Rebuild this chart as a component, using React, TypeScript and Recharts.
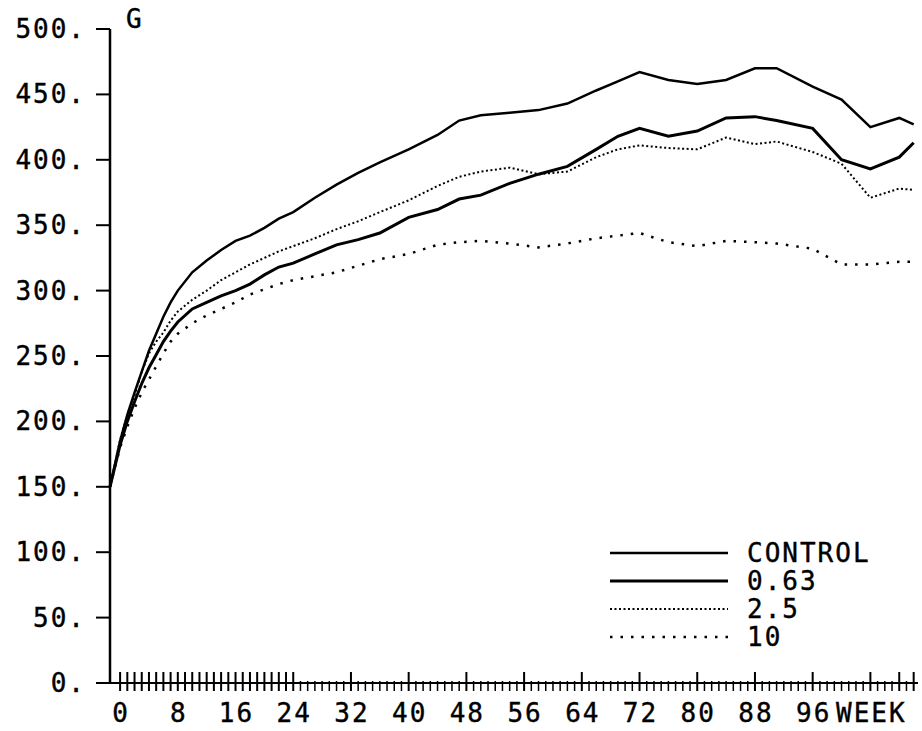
import React from 'react';
import { LineChart, Line, XAxis, YAxis, Customized } from 'recharts';

// Weeks of measurement
const weeks = [-1.4, 0, 1, 2, 3, 4, 5, 6, 7, 8, 10, 12, 14, 16, 18, 20, 22, 24, 27, 30, 33, 36, 40, 44, 47, 50, 54, 58, 62, 66, 69, 72, 76, 80, 84, 88, 91, 96, 100, 104, 108, 110];

// Body weight (G) per group
const controlValues = [150, 185, 205, 222, 238, 254, 267, 280, 291, 300, 314, 323, 331, 338, 342, 348, 355, 360, 371, 381, 390, 398, 408, 419, 430, 434, 436, 438, 443, 453, 460, 467, 461, 458, 461, 470, 470, 456, 446, 425, 432, 427];
const dose063Values = [150, 182, 200, 215, 229, 241, 251, 261, 269, 276, 286, 291, 296, 300, 305, 312, 318, 321, 328, 335, 339, 344, 356, 362, 370, 373, 382, 389, 395, 408, 418, 424, 418, 422, 432, 433, 430, 424, 400, 393, 402, 413];
const dose25Values = [150, 186, 205, 220, 238, 252, 261, 268, 277, 284, 293, 300, 308, 314, 320, 325, 330, 334, 340, 347, 353, 360, 369, 380, 387, 391, 394, 389, 391, 402, 408, 411, 409, 408, 417, 412, 414, 406, 397, 371, 378, 377];
const dose10Values = [150, 180, 196, 210, 222, 232, 242, 252, 261, 267, 275, 281, 286, 291, 297, 301, 305, 308, 311, 314, 319, 324, 328, 335, 337, 338, 336, 333, 336, 340, 342, 344, 337, 334, 338, 337, 336, 332, 320, 320, 322, 322];

const seriesKeys = ['control', 'd063', 'd25', 'd10'];
const seriesNames = ['CONTROL', '0.63', '2.5', '10'];

const yTicks = [0, 50, 100, 150, 200, 250, 300, 350, 400, 450, 500];
const xLabelTicks = [0, 8, 16, 24, 32, 40, 48, 56, 64, 72, 80, 88, 96];
const xAllTicks = Array.from({ length: 111 }, (_, i) => i);
const xUnitLabel = 'WEEK';
const yUnitLabel = 'G';

const data = weeks.map((w, i) => ({
  week: w,
  control: controlValues[i],
  d063: dose063Values[i],
  d25: dose25Values[i],
  d10: dose10Values[i],
}));

const FONT = "'DejaVu Sans Mono', monospace";
const FS = 26;
const LS = 2;

const styles: Record<string, { width: number; dash?: string }> = {
  control: { width: 2.5 },
  d063: { width: 3 },
  d25: { width: 2, dash: '2 2.5' },
  d10: { width: 2.5, dash: '2.5 8' },
};

const textProps = {
  fontFamily: FONT,
  fontSize: FS,
  letterSpacing: LS,
  fill: '#000',
  stroke: '#000',
  strokeWidth: 0.4,
};

const XTick = (props: any) => {
  const { x, y, payload } = props;
  const w = payload.value as number;
  const major = w % 8 === 0 || w <= 24 || w === 104 || w === 108 || w === 110;
  let label: string | null = null;
  if (xLabelTicks.includes(w)) label = String(w);
  if (w === 104) label = xUnitLabel;
  return (
    <g>
      {major ? (
        <line x1={x} x2={x} y1={y - 11} y2={y + 8} stroke="#000" strokeWidth={2} />
      ) : (
        <line x1={x} x2={x} y1={y - 2} y2={y + 8} stroke="#000" strokeWidth={1.5} />
      )}
      {label !== null && (
        <text x={x + LS / 2} y={y + 39} textAnchor="middle" {...textProps}>
          {label}
        </text>
      )}
    </g>
  );
};

const YTick = (props: any) => {
  const { x, y, payload } = props;
  return (
    <g>
      <line x1={x - 14} x2={x} y1={y} y2={y} stroke="#000" strokeWidth={2} />
      <text x={x - 24} y={y + 9} textAnchor="end" {...textProps}>
        {payload.value + '.'}
      </text>
    </g>
  );
};

const LegendLayer = () => (
  <g>
    {seriesKeys.map((k, i) => {
      const ly = 553 + i * 28;
      const s = styles[k];
      return (
        <g key={k}>
          <line
            x1={610}
            x2={728}
            y1={ly}
            y2={ly}
            stroke="#000"
            strokeWidth={s.width}
            strokeDasharray={s.dash}
          />
          <text x={747} y={ly + 9} {...textProps}>
            {seriesNames[i]}
          </text>
        </g>
      );
    })}
    <text x={126} y={28} {...textProps}>
      {yUnitLabel}
    </text>
  </g>
);

export default function App() {
  return (
    <div style={{ position: 'absolute', left: 0, top: 0, width: 922, height: 731, background: '#fff' }}>
      <LineChart
        width={922}
        height={731}
        data={data}
        margin={{ top: 29, right: 4, bottom: 18, left: 50 }}
      >
        <XAxis
          dataKey="week"
          type="number"
          domain={[-1.4, 110.6]}
          ticks={xAllTicks}
          interval={0}
          height={30}
          tickSize={0}
          tickMargin={0}
          axisLine={{ stroke: '#000', strokeWidth: 2 }}
          tickLine={false}
          tick={<XTick />}
        />
        <YAxis
          type="number"
          domain={[0, 500]}
          ticks={yTicks}
          interval={0}
          width={60}
          tickSize={0}
          tickMargin={0}
          axisLine={{ stroke: '#000', strokeWidth: 2.5 }}
          tickLine={false}
          tick={<YTick />}
        />
        {seriesKeys.map((k, i) => (
          <Line
            key={k}
            dataKey={k}
            name={seriesNames[i]}
            type="linear"
            stroke="#000"
            strokeWidth={styles[k].width}
            strokeDasharray={styles[k].dash}
            dot={false}
            activeDot={false}
            isAnimationActive={false}
          />
        ))}
        <Customized component={LegendLayer} />
      </LineChart>
    </div>
  );
}
